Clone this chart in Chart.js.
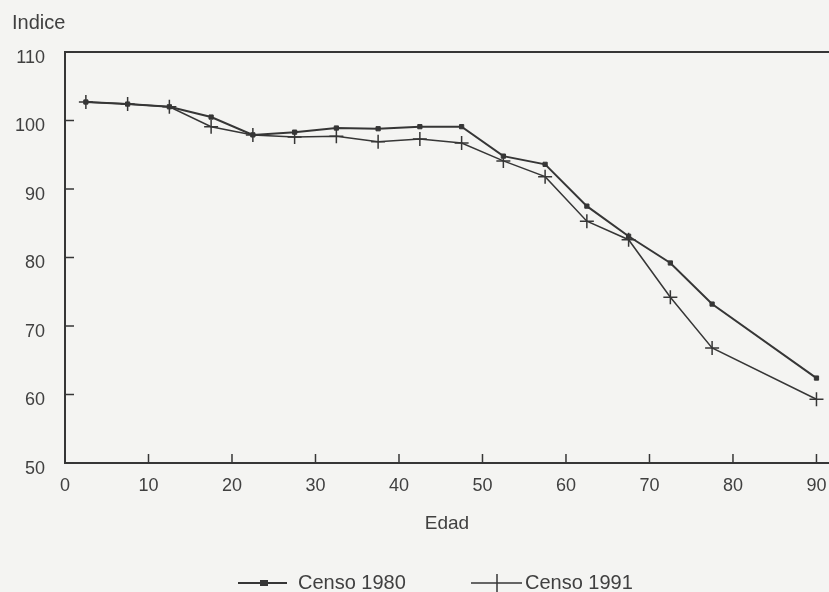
<!DOCTYPE html>
<html>
<head>
<meta charset="utf-8">
<script src="https://cdn.jsdelivr.net/npm/chart.js@4/dist/chart.umd.min.js"></script>
<style>
  html, body { margin: 0; padding: 0; background: #f4f4f2; }
  canvas { display: block; }
</style>
</head>
<body>
<canvas id="c" width="829" height="592"></canvas>
<script>
const ages = [2.5, 7.5, 12.5, 17.5, 22.5, 27.5, 32.5, 37.5, 42.5, 47.5, 52.5, 57.5, 62.5, 67.5, 72.5, 77.5, 90];
const censo1980 = [102.7, 102.4, 102.0, 100.5, 97.9, 98.3, 98.9, 98.8, 99.1, 99.1, 94.8, 93.6, 87.5, 83.1, 79.2, 73.2, 62.4];
const censo1991 = [102.7, 102.4, 102.0, 99.1, 97.9, 97.6, 97.7, 96.9, 97.3, 96.7, 94.1, 91.8, 85.3, 82.6, 74.2, 66.8, 59.3];
const seriesLabels = ['Censo 1980', 'Censo 1991'];
const xTitle = 'Edad';
const yTitle = 'Indice';
const xTickValues = [0, 10, 20, 30, 40, 50, 60, 70, 80, 90];
const yTickValues = [50, 60, 70, 80, 90, 100, 110];

const INK = '#363636';
const TEXT = '#404040';
const FONT = "'Liberation Sans', Arial, sans-serif";

const decor = {
  id: 'decor',
  afterDraw(chart) {
    const ctx = chart.ctx;
    const ca = chart.chartArea;
    const xs = chart.scales.x, ys = chart.scales.y;
    ctx.save();
    ctx.strokeStyle = INK;
    ctx.lineWidth = 2;
    // top frame line
    ctx.beginPath();
    ctx.moveTo(ca.left, ca.top);
    ctx.lineTo(chart.width, ca.top);
    ctx.stroke();
    // inward tick marks
    ctx.lineWidth = 1.5;
    xTickValues.forEach(v => {
      const px = xs.getPixelForValue(v);
      ctx.beginPath(); ctx.moveTo(px, ca.bottom); ctx.lineTo(px, ca.bottom - 9); ctx.stroke();
    });
    yTickValues.forEach(v => {
      const py = ys.getPixelForValue(v);
      ctx.beginPath(); ctx.moveTo(ca.left, py); ctx.lineTo(ca.left + 9, py); ctx.stroke();
    });
    // y title
    ctx.fillStyle = TEXT;
    ctx.font = "20px " + FONT;
    ctx.textAlign = 'left';
    ctx.textBaseline = 'middle';
    ctx.fillText(yTitle, 12, 23);
    // legend
    const items = [
      {x0: 238, x1: 287, mx: 264, tx: 298},
      {x0: 471, x1: 522, mx: 497, tx: 525}
    ];
    const ly = 583;
    chart.data.datasets.forEach((ds, i) => {
      const it = items[i];
      ctx.strokeStyle = ds.borderColor;
      ctx.lineWidth = ds.borderWidth;
      ctx.beginPath(); ctx.moveTo(it.x0, ly); ctx.lineTo(it.x1, ly); ctx.stroke();
      if (ds.pointStyle === 'rect') {
        ctx.fillStyle = ds.borderColor;
        ctx.fillRect(it.mx - 4, ly - 3, 8, 6);
      } else {
        ctx.lineWidth = 1.5;
        ctx.beginPath(); ctx.moveTo(it.mx, ly - 9); ctx.lineTo(it.mx, ly + 9); ctx.stroke();
      }
      ctx.fillStyle = TEXT;
      ctx.font = "20px " + FONT;
      ctx.textAlign = 'left';
      ctx.fillText(ds.label, it.tx, ly);
    });
    ctx.restore();
  }
};

new Chart(document.getElementById('c'), {
  type: 'line',
  data: {
    datasets: [
      {
        label: seriesLabels[0],
        data: ages.map((a, i) => ({x: a, y: censo1980[i]})),
        borderColor: INK,
        backgroundColor: INK,
        borderWidth: 2,
        pointStyle: 'rect',
        pointRadius: 3,
        pointBorderWidth: 1,
        tension: 0
      },
      {
        label: seriesLabels[1],
        data: ages.map((a, i) => ({x: a, y: censo1991[i]})),
        borderColor: INK,
        backgroundColor: INK,
        borderWidth: 1.5,
        pointStyle: 'cross',
        pointRadius: 7,
        pointBorderWidth: 1.5,
        tension: 0
      }
    ]
  },
  options: {
    responsive: false,
    animation: false,
    devicePixelRatio: 1,
    layout: { autoPadding: false, padding: { top: 52, right: 0, left: 0, bottom: 0 } },
    plugins: { legend: { display: false }, tooltip: { enabled: false } },
    scales: {
      x: {
        type: 'linear',
        min: 0,
        max: 91.5,
        ticks: { stepSize: 10, color: TEXT, font: { size: 18, family: FONT }, padding: 12, maxRotation: 0 },
        afterBuildTicks: s => { s.ticks = xTickValues.map(v => ({value: v})); },
        grid: { display: false, drawTicks: false },
        border: { display: true, color: INK, width: 2 },
        title: { display: true, text: xTitle, color: TEXT, font: { size: 19, family: FONT }, padding: { top: 0, bottom: 57 } },
        afterFit: s => { s.height = 129; s.paddingLeft = 0; s.paddingRight = 0; }
      },
      y: {
        type: 'linear',
        min: 50,
        max: 110,
        ticks: { stepSize: 10, color: TEXT, font: { size: 18, family: FONT }, padding: 20, labelOffset: 6 },
        afterBuildTicks: s => { s.ticks = yTickValues.map(v => ({value: v})); },
        grid: { display: false, drawTicks: false },
        border: { display: true, color: INK, width: 2 },
        afterFit: s => { s.width = 65; s.paddingTop = 0; s.paddingBottom = 0; }
      }
    }
  },
  plugins: [decor]
});
</script>
</body>
</html>
